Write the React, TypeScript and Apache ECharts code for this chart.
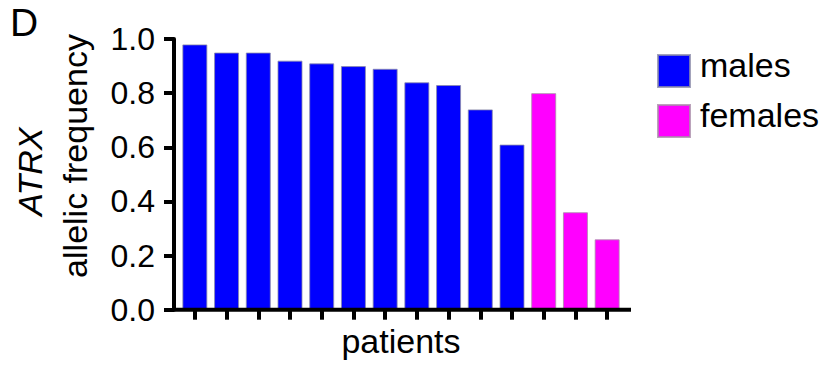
import React, { useEffect, useRef } from "react";
import * as echarts from "echarts";

// Patients, ordered as plotted (males first, then females)
const patients = [
  "P1", "P2", "P3", "P4", "P5", "P6", "P7",
  "P8", "P9", "P10", "P11", "P12", "P13", "P14",
];
const maleFreq = [0.98, 0.95, 0.95, 0.92, 0.91, 0.9, 0.89, 0.84, 0.83, 0.74, 0.61, null, null, null];
const femaleFreq = [null, null, null, null, null, null, null, null, null, null, null, 0.8, 0.36, 0.26];
const yTicks = [0, 0.2, 0.4, 0.6, 0.8, 1.0];

const FONT = "'Liberation Sans', Arial, Helvetica, sans-serif";

// plot frame
const GRID_LEFT = 179;
const GRID_TOP = 39;
const GRID_W = 444;
const GRID_H = 270.7;
const AXIS_W = 4;

export default function App() {
  const ref = useRef<HTMLDivElement>(null);

  useEffect(() => {
    document.body.style.margin = "0";
    if (!ref.current) return;
    const chart = echarts.init(ref.current, null, { renderer: "svg" });
    const baseY = GRID_TOP + GRID_H;

    chart.setOption({
      animation: false,
      backgroundColor: "#fff",
      textStyle: { fontFamily: FONT, color: "#000" },
      grid: { left: GRID_LEFT, top: GRID_TOP, width: GRID_W, height: GRID_H },
      legend: {
        orient: "vertical",
        left: 652,
        top: 43,
        itemWidth: 32,
        itemHeight: 32,
        itemGap: 9,
        icon: "rect",
        // a thin spacer line under each name lifts it slightly above the swatch centre
        formatter: "{t|{name}}\n{s| }",
        textStyle: {
          rich: {
            t: { fontFamily: FONT, fontSize: 34, lineHeight: 34, color: "#000", padding: [0, 0, 0, 5] },
            s: { fontSize: 2, lineHeight: 12 },
          },
        },
        data: ["males", "females"],
      },
      xAxis: {
        type: "category",
        data: patients,
        boundaryGap: true,
        name: "patients",
        nameLocation: "middle",
        nameGap: 14.5,
        nameTextStyle: { fontFamily: FONT, fontSize: 34, color: "#000", verticalAlign: "top" },
        axisLine: { show: false },
        axisTick: {
          show: true,
          alignWithLabel: true,
          length: 10,
          lineStyle: { color: "#000", width: 4 },
        },
        axisLabel: { show: false },
        splitLine: { show: false },
      },
      yAxis: {
        type: "value",
        min: 0,
        max: 1,
        interval: 0.2,
        offset: 5,
        axisLine: { show: true, lineStyle: { color: "#000", width: AXIS_W } },
        axisTick: { show: true, length: 10, lineStyle: { color: "#000", width: 4 } },
        axisLabel: {
          margin: 19,
          fontFamily: FONT,
          fontSize: 32,
          color: "#000",
          formatter: (v: number) => (yTicks.some((t) => Math.abs(t - v) < 1e-9) ? v.toFixed(1) : ""),
        },
        splitLine: { show: false },
      },
      graphic: [
        {
          type: "line",
          z: 100,
          shape: { x1: GRID_LEFT - 7, y1: baseY, x2: GRID_LEFT + GRID_W + 8, y2: baseY },
          style: { stroke: "#000", lineWidth: AXIS_W },
        },
        {
          type: "text",
          x: 10,
          y: 22,
          style: { text: "D", font: `39px ${FONT}`, fill: "#000", verticalAlign: "middle" },
        },
        {
          type: "text",
          x: 30,
          y: 171.7,
          rotation: Math.PI / 2,
          style: {
            text: "ATRX",
            font: `italic 34px ${FONT}`,
            fill: "#000",
            align: "center",
            verticalAlign: "middle",
          },
        },
        {
          type: "text",
          x: 75,
          y: 156,
          rotation: Math.PI / 2,
          style: {
            text: "allelic frequency",
            font: `34px ${FONT}`,
            fill: "#000",
            align: "center",
            verticalAlign: "middle",
          },
        },
      ],
      series: [
        {
          name: "males",
          type: "bar",
          data: maleFreq,
          barWidth: 25,
          barGap: "-100%",
          itemStyle: { color: "#0000ff", borderColor: "rgba(140,140,170,0.8)", borderWidth: 1 },
        },
        {
          name: "females",
          type: "bar",
          data: femaleFreq,
          barWidth: 25,
          barGap: "-100%",
          itemStyle: { color: "#ff00ff", borderColor: "rgba(170,140,170,0.8)", borderWidth: 1 },
        },
      ],
    });

    return () => chart.dispose();
  }, []);

  return <div ref={ref} style={{ width: 833, height: 370 }} />;
}
